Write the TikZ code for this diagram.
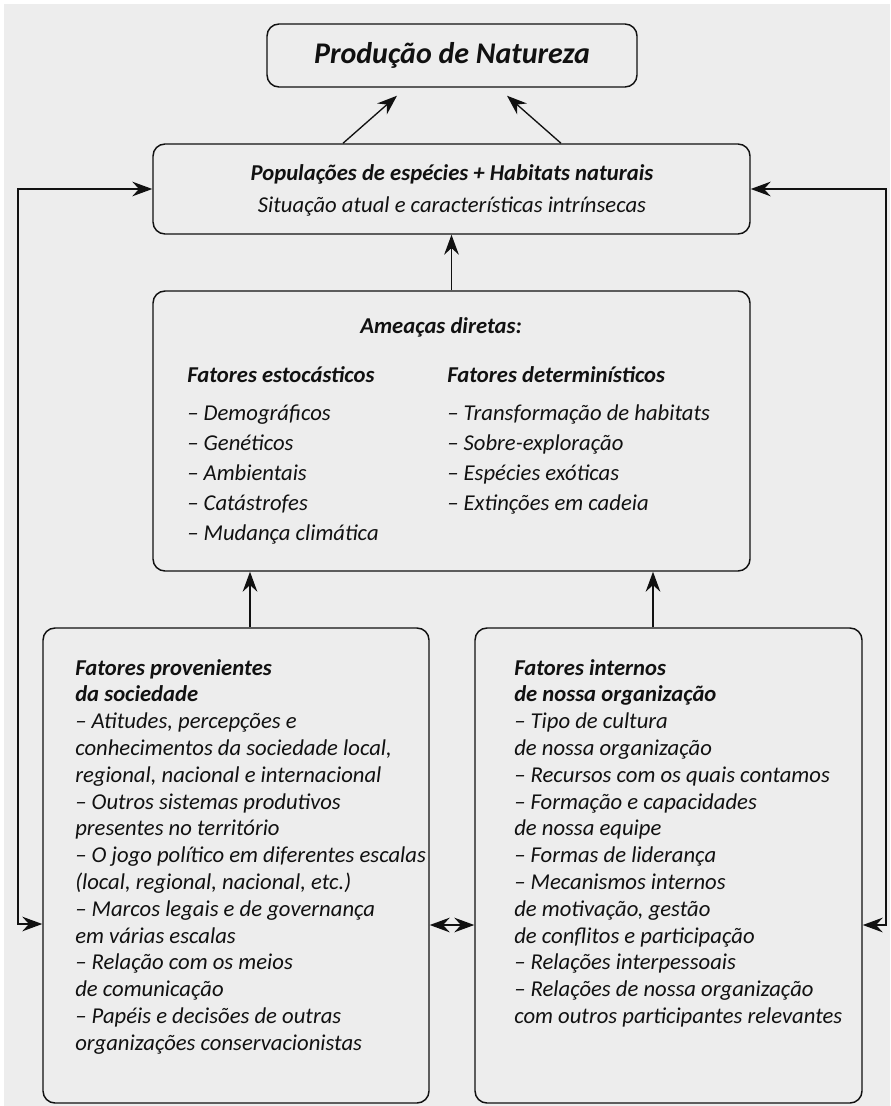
\documentclass[tikz,border=0pt]{standalone}
\usepackage{fontspec}
\setmainfont{Carlito}
\usetikzlibrary{arrows.meta,calc}
\definecolor{bg}{HTML}{EDEDED}
\definecolor{ink}{HTML}{111111}
\def\pxu{0.75pt}
\begin{document}
\begin{tikzpicture}[x=0.75pt,y=-0.75pt,
  box/.style={draw=ink, line width=1.1pt, rounded corners=9pt, fill=bg, inner sep=0pt, text=ink},
  arr/.style={draw=ink, line width=1pt, -{Stealth[length=15pt,width=11pt,inset=5pt]}},
  arrboth/.style={draw=ink, line width=1pt, {Stealth[length=15pt,width=11pt,inset=5pt]}-{Stealth[length=15pt,width=11pt,inset=5pt]}},
  body/.style={font=\itshape\fontsize{17}{20.1}\selectfont, inner sep=0pt, align=left, anchor=north west, text=ink, execute at begin node=\strut},
  list/.style={font=\itshape\fontsize{17}{22.5}\selectfont, inner sep=0pt, align=left, anchor=north west, text=ink, execute at begin node=\strut},
]
\fill[white] (0,0) rectangle (890,1106);
\fill[bg] (4,4) rectangle (890,1106);
\useasboundingbox (0,0) rectangle (890,1106);

% boxes
\node[box, minimum width=277.5pt, minimum height=47.25pt,
  font=\bfseries\itshape\fontsize{22.5}{26}\selectfont] (prod) at (452,55.5) {Produção de Natureza};
\node[box, minimum width=447.75pt, minimum height=67.5pt] (pop) at (451.5,189) {};
\node[font=\itshape\fontsize{17}{23.5}\selectfont, align=center, inner sep=0pt, text=ink, anchor=base]
  (poptxt) at (452,212) {\textbf{Populações de espécies + Habitats naturais}\\Situação atual e características intrínsecas};
\node[box, minimum width=447.75pt, minimum height=210pt] (thr) at (451.5,431) {};
\node[box, minimum width=289.5pt, minimum height=356.25pt] (soc) at (236,865.5) {};
\node[box, minimum width=290.25pt, minimum height=356.25pt] (org) at (668.5,865.5) {};

% threats content
\node[font=\bfseries\itshape\fontsize{17}{20}\selectfont, inner sep=0pt, anchor=base, text=ink] (thrhead) at (441,333) {Ameaças diretas:};
\node[list] (stoch) at (187,366) {\textbf{Fatores estocásticos}\\[6pt]
 – Demográficos\\
 – Genéticos\\
 – Ambientais\\
 – Catástrofes\\
 – Mudança climática};
\node[list] (determ) at (447,366) {\textbf{Fatores determinísticos}\\[6pt]
 – Transformação de habitats\\
 – Sobre-exploração\\
 – Espécies exóticas\\
 – Extinções em cadeia};

% society box text
\node[body] (soctxt) at (75,659) {\textbf{Fatores provenientes}\\
\textbf{da sociedade}\\
– Atitudes, percepções e\\
conhecimentos da sociedade local,\\
regional, nacional e internacional\\
– Outros sistemas produtivos\\
presentes no território\\
– O jogo político em diferentes escalas\\
(local, regional, nacional, etc.)\\
– Marcos legais e de governança\\
em várias escalas\\
– Relação com os meios\\
de comunicação\\
– Papéis e decisões de outras\\
organizações conservacionistas};

% organisation box text
\node[body] (orgtxt) at (514,659) {\textbf{Fatores internos}\\
\textbf{de nossa organização}\\
– Tipo de cultura\\
de nossa organização\\
– Recursos com os quais contamos\\
– Formação e capacidades\\
de nossa equipe\\
– Formas de liderança\\
– Mecanismos internos\\
de motivação, gestão\\
de conflitos e participação\\
– Relações interpessoais\\
– Relações de nossa organização\\
com outros participantes relevantes};

% connectors
\draw[arr] ([xshift=-108.5*\pxu]pop.north) -- ([xshift=-55*\pxu,yshift=-8*\pxu]prod.south);
\draw[arr] ([xshift=109.5*\pxu]pop.north) -- ([xshift=55*\pxu,yshift=-8*\pxu]prod.south);
\draw[arr] (thr.north) -- (pop.south);
\draw[arr] ([xshift=14*\pxu]soc.north) -- ([xshift=14*\pxu]soc.north |- thr.south);
\draw[arr] ([xshift=-15.5*\pxu]org.north) -- ([xshift=-15.5*\pxu]org.north |- thr.south);
\draw[arrboth] ([yshift=-59.5*\pxu]soc.east) -- ([yshift=-59.5*\pxu]org.west);
\coordinate (lc) at (18,189);
\coordinate (rc) at (886,189);
\draw[arrboth] ([yshift=-58.5*\pxu]soc.west) -| (lc) -- (pop.west);
\draw[arrboth] ([yshift=-59.5*\pxu]org.east) -| (rc) -- (pop.east);
\end{tikzpicture}
\end{document}
